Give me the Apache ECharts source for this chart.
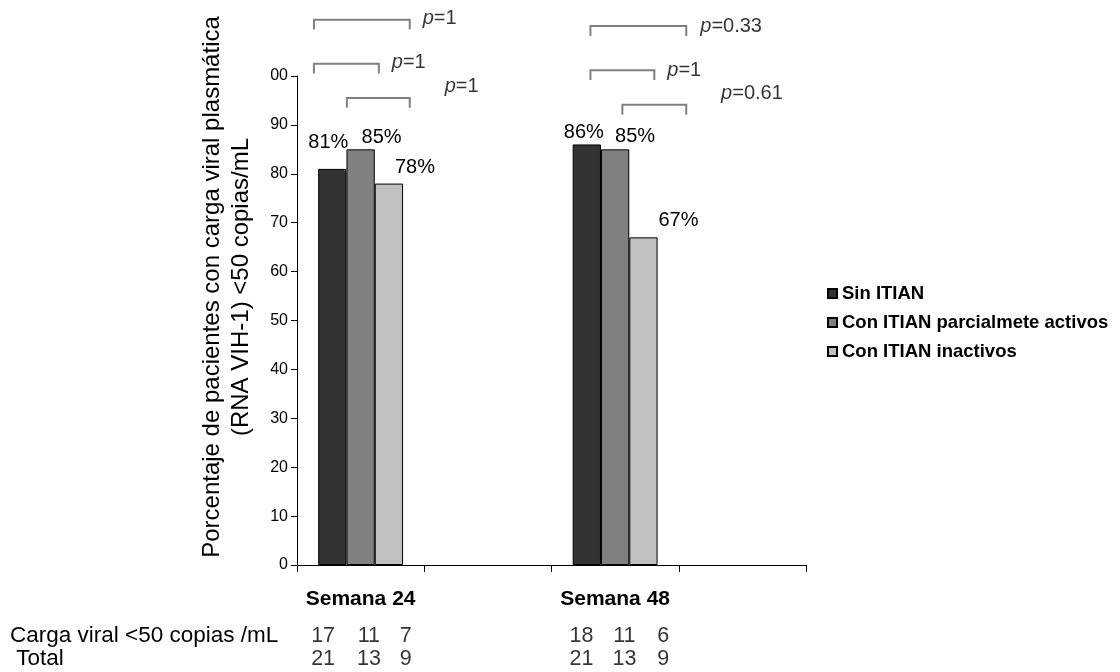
<!DOCTYPE html>
<html>
<head>
<meta charset="utf-8">
<script src="https://cdn.jsdelivr.net/npm/echarts@6/dist/echarts.min.js"></script>
<style>html,body{margin:0;padding:0;background:#fff}#c{width:1120px;height:672px}</style>
</head>
<body>
<div id="c"></div>
<script>
// ---- data ----
const categories = ['Semana 24', '', 'Semana 48', ''];
const seriesNames = ['Sin ITIAN', 'Con ITIAN parcialmete activos', 'Con ITIAN inactivos'];
const pctSinITIAN = [81, null, 86, null];
const pctParcial = [85, null, 85, null];
const pctInactivos = [78, null, 67, null];
const weekCategoryIndex = [0, 2];
const countBelow50 = [[17, 11, 7], [18, 11, 6]];
const countTotal = [[21, 13, 9], [21, 13, 9]];
const tableRowLabels = ['Carga viral <50 copias /mL', ' Total'];
const pValues = [['1', '1', '1'], ['0.33', '1', '0.61']];
const yTickMin = 0, yTickMax = 100, yTickStep = 10;

// ---- layout (positions only) ----
const FONT = '"Liberation Sans", Arial, sans-serif';
const colors = ['#333333', '#808080', '#c0c0c0'];
// data-label pixel offsets [series][category]
const labelOffsets = [
  [[-4, -11], null, [-3, 3], null],
  [[21, 3], null, [20, 2], null],
  [[26, -1], null, [35, -2], null]
];
// brackets per week, in hidden value-axis units (slot units on x, % on y): [x1, x2, yTop, drop]
const bracketLayout = [
  [[0.133, 0.886, 111.5, 2], [0.133, 0.643, 102.5, 2], [0.392, 0.886, 95.5, 2]],
  [[2.306, 3.059, 110.2, 2], [2.306, 2.808, 101.2, 2], [2.557, 3.059, 94.1, 2]]
];
const pLabelLayout = [
  [[0.988, 111.7], [0.745, 102.7], [1.161, 97.9]],
  [[3.169, 110.2], [2.91, 101.2], [3.333, 96.5]]
];
// table columns relative to week slot start, rows in % units below axis
const tableColX = [0.205, 0.565, 0.855];
const tableColX48 = [0.235, 0.573, 0.878];
const tableRowY = [-14.5, -19.2];

const chart = echarts.init(document.getElementById('c'), null, {renderer: 'canvas'});

const pctSeries = [pctSinITIAN, pctParcial, pctInactivos];
const barSeries = pctSeries.map((arr, s) => ({
  name: seriesNames[s],
  type: 'bar',
  xAxisIndex: 0, yAxisIndex: 0,
  barGap: '0%',
  barCategoryGap: '33.3%',
  itemStyle: {color: colors[s], borderColor: '#000', borderWidth: 1},
  label: {show: true, position: 'top', distance: 5, formatter: '{c}%', fontSize: 20, color: '#000', fontFamily: FONT},
  data: arr.map((v, i) => v == null ? '-' : {value: v, label: {offset: labelOffsets[s][i]}})
}));

const bracketData = [];
bracketLayout.forEach(w => w.forEach(b => bracketData.push(b)));
const pData = [];
pLabelLayout.forEach((w, wi) => w.forEach((p, k) => pData.push([p[0], p[1], pValues[wi][k]])));
const tableData = [];
weekCategoryIndex.forEach((ci, wi) => {
  const cols = wi === 0 ? tableColX : tableColX48;
  [countBelow50, countTotal].forEach((rows, ri) => {
    rows[wi].forEach((v, k) => tableData.push([ci + cols[k], tableRowY[ri], String(v)]));
  });
});

const option = {
  animation: false,
  backgroundColor: '#fff',
  textStyle: {fontFamily: FONT},
  grid: {left: 297, right: 314, top: 76, bottom: 107, containLabel: false},
  legend: {
    orient: 'vertical', left: 827, top: 283.5, padding: 0,
    data: seriesNames, icon: 'rect', itemWidth: 9, itemHeight: 9, itemGap: 9,
    textStyle: {fontSize: 18.5, fontWeight: 'bold', color: '#000', lineHeight: 20, fontFamily: FONT}
  },
  xAxis: [{
    type: 'category', data: categories,
    axisLine: {lineStyle: {color: '#000', width: 1}},
    axisTick: {show: true, interval: 0, length: 7, lineStyle: {color: '#000'}},
    axisLabel: {interval: 0, margin: 24, fontSize: 21, fontWeight: 'bold', color: '#000', fontFamily: FONT},
    splitLine: {show: false}
  }, {
    type: 'value', min: 0, max: 4, show: false
  }],
  yAxis: [{
    type: 'value', min: yTickMin, max: yTickMax, interval: yTickStep,
    axisLine: {show: true, lineStyle: {color: '#000', width: 1}},
    axisTick: {show: true, length: 6, lineStyle: {color: '#000'}},
    axisLabel: {fontSize: 16, color: '#000', margin: 9, fontFamily: FONT,
      formatter: v => v === 100 ? '00' : String(v)},
    splitLine: {show: false}
  }, {
    type: 'value', min: yTickMin, max: yTickMax, show: false
  }],
  series: barSeries.concat([
    {
      type: 'custom', xAxisIndex: 1, yAxisIndex: 1, clip: false, silent: true,
      data: bracketData,
      renderItem: (params, api) => {
        const x1 = api.value(0), x2 = api.value(1), y = api.value(2), d = api.value(3);
        return {
          type: 'polyline',
          shape: {points: [api.coord([x1, y - d]), api.coord([x1, y]), api.coord([x2, y]), api.coord([x2, y - d])]},
          style: {stroke: '#808080', lineWidth: 2, fill: null}
        };
      }
    },
    {
      type: 'scatter', xAxisIndex: 1, yAxisIndex: 1, clip: false, silent: true,
      symbolSize: 0, data: pData,
      label: {show: true, position: 'right', distance: 0, color: '#000', fontSize: 20, fontFamily: FONT,
        formatter: p => '{i|p}=' + p.value[2],
        rich: {i: {fontStyle: 'italic', fontSize: 20, color: '#000', fontFamily: FONT}}}
    },
    {
      type: 'scatter', xAxisIndex: 1, yAxisIndex: 1, clip: false, silent: true,
      symbolSize: 0, data: tableData,
      label: {show: true, position: 'inside', color: '#000', fontSize: 21.5, fontFamily: FONT,
        formatter: p => p.value[2]}
    }
  ]),
  graphic: [
    {type: 'text', x: 227, y: 287, rotation: Math.PI / 2, silent: true,
     style: {text: 'Porcentaje de pacientes con carga viral plasmática\n(RNA VIH-1) <50 copias/mL',
       fontSize: 24, fontFamily: FONT, fill: '#000', align: 'center', verticalAlign: 'middle', lineHeight: 29}},
    {type: 'text', x: 10, y: 636, silent: true,
     style: {text: tableRowLabels[0], fontSize: 22.5, fontFamily: FONT, fill: '#000', verticalAlign: 'middle'}},
    {type: 'text', x: 10, y: 659, silent: true,
     style: {text: tableRowLabels[1], fontSize: 22.5, fontFamily: FONT, fill: '#000', verticalAlign: 'middle'}}
  ]
};
chart.setOption(option);
</script>
</body>
</html>
